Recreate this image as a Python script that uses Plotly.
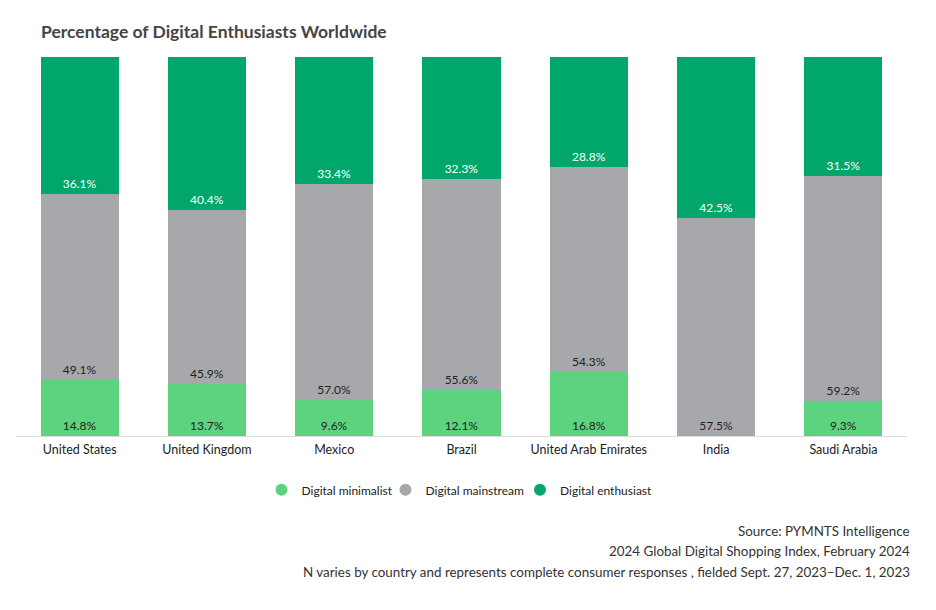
import plotly.graph_objects as go

countries = ["United States", "United Kingdom", "Mexico", "Brazil",
             "United Arab Emirates", "India", "Saudi Arabia"]
minimalist = [14.8, 13.7, 9.6, 12.1, 16.8, None, 9.3]
mainstream = [49.1, 45.9, 57.0, 55.6, 54.3, 57.5, 59.2]
enthusiast = [36.1, 40.4, 33.4, 32.3, 28.8, 42.5, 31.5]

series = [
    ("Digital minimalist", minimalist, "#5dd37f", "#222222"),
    ("Digital mainstream", mainstream, "#a7a8ab", "#222222"),
    ("Digital enthusiast", enthusiast, "#00a66a", "#ffffff"),
]

FONT = "Lato, 'Open Sans', sans-serif"

fig = go.Figure()
for name, vals, color, tcolor in series:
    fig.add_trace(go.Bar(
        x=countries, y=vals, name=name, marker=dict(color=color, line=dict(width=0)),
        texttemplate="%{y:.1f}%", textposition="inside", insidetextanchor="start",
        textangle=0, constraintext="none",
        textfont=dict(color=tcolor, size=12, family=FONT),
        showlegend=False, hoverinfo="skip",
    ))

legend_ids = ["legend", "legend2", "legend3"]
legend_px = [281.5, 405.5, 540]
for (name, vals, color, tcolor), lid in zip(series, legend_ids):
    fig.add_trace(go.Scatter(
        x=[countries[0]], y=[None], mode="markers", name=name, legend=lid,
        marker=dict(color=color, size=15, symbol="circle"), showlegend=True,
    ))

legend_common = dict(orientation="h", xanchor="left", y=-0.142, yanchor="middle",
                     font=dict(size=12, color="#222222"), itemsizing="constant",
                     itemwidth=30, bgcolor="rgba(0,0,0,0)", borderwidth=0)

fig.update_layout(
    width=936, height=610,
    barmode="stack", bargap=0.387,
    paper_bgcolor="white", plot_bgcolor="white",
    margin=dict(l=16, r=29, t=57, b=174),
    font=dict(family=FONT, color="#222222", size=12),
    title=dict(text="<b>Percentage of Digital Enthusiasts Worldwide</b>",
               x=41/936, xanchor="left", xref="container",
               y=1-32/610, yanchor="middle", yref="container",
               font=dict(size=17.5, color="#444444", family=FONT)),
    xaxis=dict(showline=True, linecolor="#dddddd", linewidth=1, ticks="",
               ticklabelstandoff=2,
               tickfont=dict(size=12.5, color="#222222"), showgrid=False),
    yaxis=dict(range=[0, 100], visible=False, showgrid=False, fixedrange=True),
)
for lid, px in zip(legend_ids, legend_px):
    fig.update_layout({lid: dict(legend_common, x=(px - 20 - 16) / 891)})

notes = ["Source: PYMNTS Intelligence",
         "2024 Global Digital Shopping Index, February 2024",
         "N varies by country and represents complete consumer responses , fielded Sept. 27, 2023\u2013Dec. 1, 2023"]
ys = [531, 551, 572]
for t, py in zip(notes, ys):
    fig.add_annotation(text=t, xref="paper", yref="paper",
                       x=(912-16)/891, y=(436-py)/379, xanchor="right", yanchor="middle",
                       showarrow=False, font=dict(size=13.4, color="#333333", family=FONT))

fig.write_html("out.html", config={"displayModeBar": False},
               post_script="document.body.style.margin='0';document.body.style.overflow='hidden';")
